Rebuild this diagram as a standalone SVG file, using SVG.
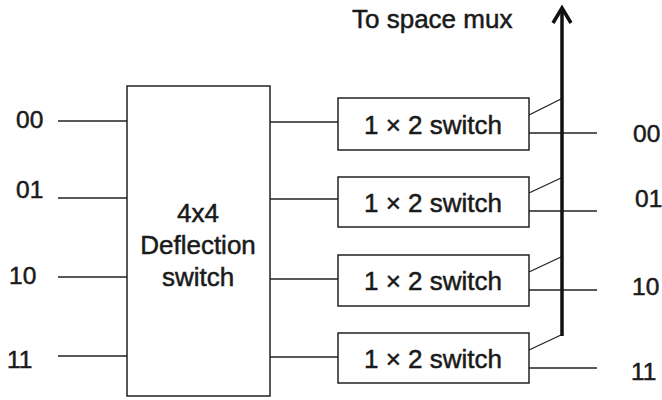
<svg xmlns="http://www.w3.org/2000/svg" width="662" height="400" viewBox="0 0 662 400">
<style>
text{font-family:"Liberation Sans",Arial,sans-serif;fill:#1a1a1a;stroke:#1a1a1a;stroke-width:0.5}
.lbl{font-size:24.5px}
.big{font-size:26px}
.box{fill:#fff;stroke:#222;stroke-width:1.5}
.ln{stroke:#222;stroke-width:1.3;fill:none}
.bus{stroke:#111;stroke-width:3.5;fill:none}
</style>
<rect width="662" height="400" fill="#fff"/>
<g id="inputs">
<text class="lbl" x="16" y="128">00</text>
<text class="lbl" x="16" y="198">01</text>
<text class="lbl" x="9" y="284">10</text>
<text class="lbl" x="7" y="368">11</text>
</g>
<g id="outputs">
<text class="lbl" x="633" y="142">00</text>
<text class="lbl" x="635" y="207">01</text>
<text class="lbl" x="632" y="295">10</text>
<text class="lbl" x="631" y="380">11</text>
</g>
<g id="connectors">
<line class="ln" x1="58" y1="121" x2="127" y2="121"/>
<line class="ln" x1="58" y1="198" x2="127" y2="198"/>
<line class="ln" x1="58" y1="277" x2="127" y2="277"/>
<line class="ln" x1="58" y1="356" x2="127" y2="356"/>
<line class="ln" x1="270" y1="122" x2="338" y2="122"/>
<line class="ln" x1="270" y1="199" x2="338" y2="199"/>
<line class="ln" x1="270" y1="279" x2="338" y2="279"/>
<line class="ln" x1="270" y1="357" x2="338" y2="357"/>
<line class="ln" x1="529" y1="133" x2="597" y2="133"/>
<line class="ln" x1="529" y1="211" x2="597" y2="211"/>
<line class="ln" x1="529" y1="290" x2="597" y2="290"/>
<line class="ln" x1="529" y1="368" x2="597" y2="368"/>
<line class="ln" x1="529" y1="115" x2="561" y2="99"/>
<line class="ln" x1="529" y1="193" x2="561" y2="178"/>
<line class="ln" x1="529" y1="272" x2="561" y2="257"/>
<line class="ln" x1="529" y1="350" x2="561" y2="335"/>
<line class="bus" x1="562" y1="336" x2="562" y2="9"/>
<polyline class="bus" points="553,23 562,8 571,23"/>
</g>
<g id="deflection">
<rect class="box" x="127" y="86" width="143" height="310"/>
<text class="big" x="198" y="222" text-anchor="middle">4x4</text>
<text class="big" x="198" y="254" text-anchor="middle">Deflection</text>
<text class="big" x="198" y="286" text-anchor="middle">switch</text>
</g>
<g id="sw1"><rect class="box" x="338" y="98" width="191" height="52"/><text class="big" x="433" y="134" text-anchor="middle">1 × 2 switch</text></g>
<g id="sw2"><rect class="box" x="338" y="177" width="191" height="50"/><text class="big" x="433" y="212" text-anchor="middle">1 × 2 switch</text></g>
<g id="sw3"><rect class="box" x="338" y="255" width="191" height="51"/><text class="big" x="433" y="290" text-anchor="middle">1 × 2 switch</text></g>
<g id="sw4"><rect class="box" x="338" y="333" width="191" height="50"/><text class="big" x="433" y="368" text-anchor="middle">1 × 2 switch</text></g>
<g id="label-mux"><text class="big" x="352" y="28">To space mux</text></g>
</svg>
